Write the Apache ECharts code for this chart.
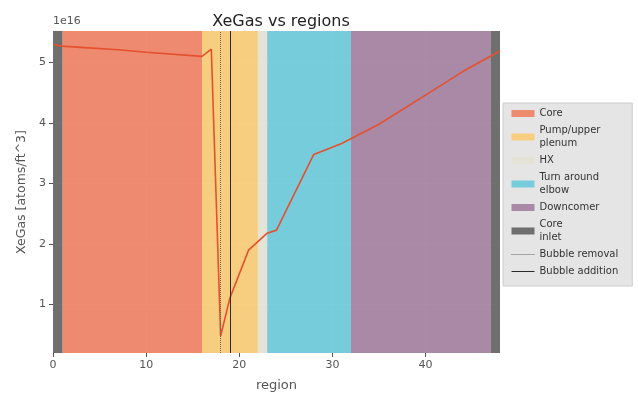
<!DOCTYPE html>
<html>
<head>
<meta charset="utf-8">
<script src="https://cdn.jsdelivr.net/npm/echarts@6/dist/echarts.min.js"></script>
<style>
  html, body { margin: 0; padding: 0; background: #fff; }
  #chart { width: 638px; height: 397px; }
</style>
</head>
<body>
<div id="chart"></div>
<script>
// XeGas concentration along the loop regions (values in units of 1e16 atoms/ft^3)
const regionX = [0, 1, 3, 7, 10, 16, 17, 18, 19, 21, 23, 24, 28, 31, 35, 40, 44, 48];
const xeGas   = [5.30, 5.27, 5.25, 5.21, 5.17, 5.10, 5.22, 0.48, 1.11, 1.90, 2.18, 2.23, 3.48, 3.66, 3.98, 4.46, 4.85, 5.19];
const scaleExponent = 16;

// Loop sections along the region axis
const bandNames  = ['Core', 'Pump/upper\nplenum', 'HX', 'Turn around\nelbow', 'Downcomer', 'Core\ninlet'];
const bandRanges = [
  [[1, 16]],
  [[16, 22]],
  [[22, 23]],
  [[23, 32]],
  [[32, 47]],
  [[0, 1], [47, 48]]
];
const bandColors = ['#ED8062', '#F8CA73', '#E4E2D4', '#6AC9D9', '#A27E9D', '#626262'];

// Bubble removal / addition positions
const bubbleRemovalX = 18;
const bubbleAdditionX = 19;

// Axis ticks
const xTicks = [0, 10, 20, 30, 40];
const yTicks = [1, 2, 3, 4, 5];

const FONT = 'DejaVu Sans';
const removalColor = '#666666';
const additionColor = '#2a2a2a';
const chart = echarts.init(document.getElementById('chart'), null, { renderer: 'canvas' });

const bandSeries = bandNames.map((name, i) => ({
  name: name,
  type: 'line',
  data: [],
  symbol: 'none',
  silent: true,
  itemStyle: { color: bandColors[i], opacity: 0.9 },
  lineStyle: { width: 0 },
  markArea: {
    silent: true,
    itemStyle: { color: bandColors[i], opacity: 0.9 },
    data: bandRanges[i].map(r => [{ xAxis: r[0] }, { xAxis: r[1] }])
  },
  z: 1
}));

function vLine(name, x, color, type) {
  return {
    name: name,
    type: 'line',
    data: [],
    symbol: 'none',
    silent: true,
    // transparent item colour keeps the legend icon a plain line
    itemStyle: { color: 'rgba(0,0,0,0)', borderWidth: 0 },
    lineStyle: { color: color, width: 1, type: type },
    markLine: {
      silent: true,
      symbol: 'none',
      label: { show: false },
      lineStyle: { color: color, width: 1, type: type },
      data: [{ xAxis: x }]
    },
    z: 4
  };
}

const option = {
  animation: false,
  backgroundColor: '#ffffff',
  title: {
    text: 'XeGas vs regions',
    left: 276,
    textAlign: 'center',
    top: 9,
    textStyle: { fontFamily: FONT, fontSize: 16, fontWeight: 'normal', color: '#222' }
  },
  grid: {
    left: 53, right: 138, top: 31, bottom: 41,
    show: true, backgroundColor: '#E5E5E5', borderWidth: 0
  },
  graphic: [{
    type: 'text',
    left: 53, top: 16,
    style: { text: '1e' + scaleExponent, font: '11px "DejaVu Sans"', fill: '#555' }
  }],
  legend: {
    orient: 'vertical',
    left: 503, top: 103,
    backgroundColor: '#E5E5E5',
    borderColor: '#CCCCCC', borderWidth: 1,
    padding: [4, 14, 8, 8],
    itemWidth: 23, itemHeight: 7,
    itemGap: 4,
    selectedMode: false,
    textStyle: { fontFamily: FONT, fontSize: 10, color: '#333', lineHeight: 13 },
    data: bandNames.map(n => ({ name: n, icon: 'rect' })).concat([
      { name: 'Bubble removal', lineStyle: { color: removalColor, width: 1, type: 'dotted' } },
      { name: 'Bubble addition', lineStyle: { color: additionColor, width: 1, type: 'solid' } }
    ])
  },
  xAxis: {
    type: 'value',
    min: 0, max: 48,
    name: 'region',
    nameLocation: 'middle',
    nameGap: 26,
    nameTextStyle: { fontFamily: FONT, fontSize: 13, color: '#555' },
    axisLine: { show: false },
    axisTick: { show: true, length: 4, lineStyle: { color: '#555' }, customValues: xTicks },
    axisLabel: { fontFamily: FONT, fontSize: 11, color: '#555', margin: 7, customValues: xTicks },
    splitLine: { show: true, lineStyle: { color: '#ffffff', width: 1 } }
  },
  yAxis: {
    type: 'value',
    min: 0.2, max: 5.52,
    name: 'XeGas [atoms/ft^3]',
    nameLocation: 'middle',
    nameGap: 22,
    nameTextStyle: { fontFamily: FONT, fontSize: 12.5, color: '#555' },
    axisLine: { show: false },
    axisTick: { show: true, length: 4, lineStyle: { color: '#555' }, customValues: yTicks },
    axisLabel: { fontFamily: FONT, fontSize: 11, color: '#555', margin: 7, customValues: yTicks,
                 formatter: v => String(Math.round(v)) },
    splitLine: { show: true, lineStyle: { color: '#ffffff', width: 1 } }
  },
  series: bandSeries.concat([
    {
      name: 'XeGas',
      type: 'line',
      data: regionX.map((x, i) => [x, xeGas[i]]),
      symbol: 'none',
      silent: true,
      lineStyle: { color: '#E5502F', width: 1.6 },
      itemStyle: { color: '#E5502F' },
      z: 3
    },
    vLine('Bubble removal', bubbleRemovalX, removalColor, 'dotted'),
    vLine('Bubble addition', bubbleAdditionX, additionColor, 'solid')
  ])
};

chart.setOption(option);
</script>
</body>
</html>
